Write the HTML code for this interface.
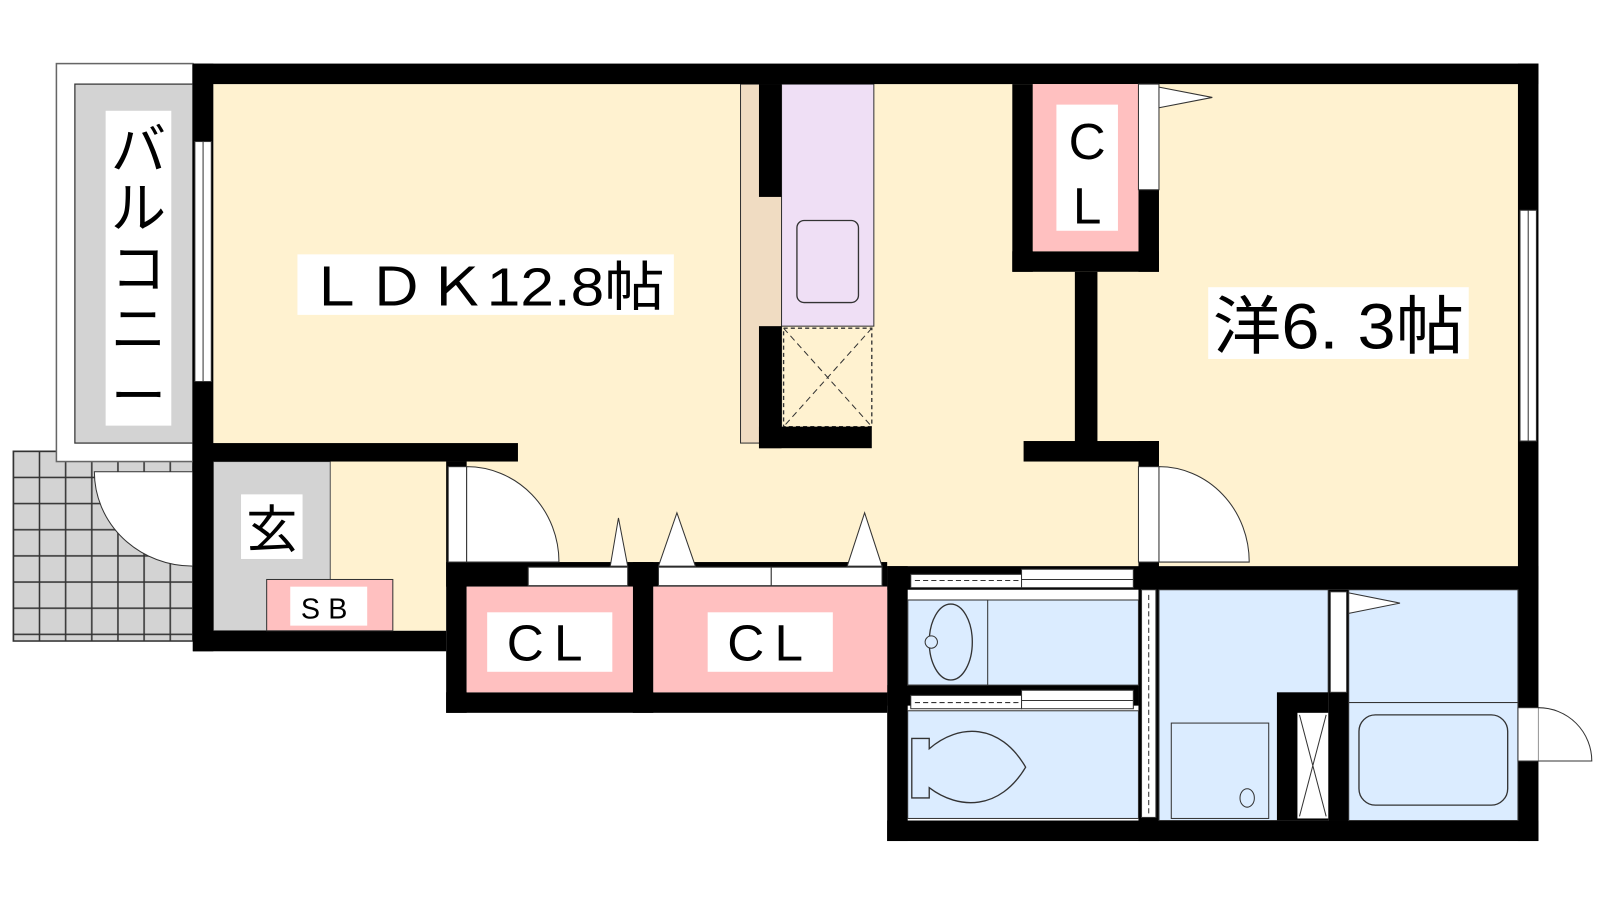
<!DOCTYPE html>
<html><head><meta charset="utf-8"><style>
html,body{margin:0;padding:0;background:#fff;width:1600px;height:900px;overflow:hidden}
svg{display:block}
text{font-family:"Liberation Sans","Noto Sans CJK JP",sans-serif;fill:#000}
</style></head><body>
<svg width="1600" height="900" viewBox="0 0 1560 877.5" preserveAspectRatio="none" xmlns="http://www.w3.org/2000/svg">
<defs>
<pattern id="tile" x="13" y="440" width="25.5" height="25.5" patternUnits="userSpaceOnUse">
<rect width="25.5" height="25.5" fill="#d3d3d3" stroke="#333" stroke-width="1.5"/>
</pattern>
</defs>
<!-- balcony -->
<rect x="13" y="440" width="175" height="185" fill="url(#tile)" stroke="#333" stroke-width="1.5"/>
<rect x="55" y="62" width="133" height="388" fill="#fff" stroke="#666" stroke-width="1.5"/>
<rect x="73" y="82" width="115" height="350" fill="#d3d3d3" stroke="#333" stroke-width="1.2"/>
<rect x="103" y="108" width="64" height="307" fill="#fff"/>
<text x="135" y="165" font-size="54" text-anchor="middle">バ</text>
<text x="135" y="222" font-size="54" text-anchor="middle">ル</text>
<text x="135" y="281" font-size="54" text-anchor="middle">コ</text>
<text x="135" y="340" font-size="54" text-anchor="middle">ニ</text>
<text x="135" y="405" font-size="54" text-anchor="middle">ー</text>
<!-- entry door swing -->
<path d="M188,460 L92,460 A96,92 0 0 0 188,552 Z" fill="#fff" stroke="#333" stroke-width="1"/>
<rect x="188" y="455" width="20" height="100" fill="#fff" stroke="#333"/>

<!-- floors -->
<rect x="208" y="82" width="1272" height="470" fill="#fff2d0"/>
<rect x="208" y="450" width="227" height="165" fill="#fff2d0"/>
<rect x="208" y="450" width="114" height="165" fill="#d3d3d3" stroke="#555" stroke-width="1"/>
<!-- kitchen -->
<rect x="722" y="82" width="40" height="350" fill="#f0dcc2" stroke="#333" stroke-width="1"/>
<rect x="762" y="82" width="90" height="236" fill="#efdff5" stroke="#333" stroke-width="1"/>
<rect x="777" y="215" width="60" height="80" rx="7" fill="none" stroke="#333" stroke-width="1.3"/>
<rect x="764" y="320" width="86" height="96" fill="none" stroke="#333" stroke-width="1.3" stroke-dasharray="4,3"/>
<path d="M764,320 L850,416 M850,320 L764,416" stroke="#333" stroke-width="1" stroke-dasharray="6,4"/>

<!-- walls -->
<g fill="#000">
<rect x="188" y="62" width="1312" height="20"/>
<rect x="188" y="62" width="20" height="573"/>
<rect x="1480" y="62" width="20" height="758"/>
<rect x="188" y="432" width="317" height="18"/>
<rect x="188" y="615" width="247" height="20"/>
<rect x="435" y="450" width="20" height="245"/>
<rect x="435" y="548" width="430" height="24"/>
<rect x="617" y="548" width="20" height="147"/>
<rect x="435" y="675" width="430" height="20"/>
<rect x="740" y="82" width="22" height="110"/>
<rect x="740" y="318" width="22" height="119"/>
<rect x="740" y="416" width="110" height="21"/>
<rect x="987" y="82" width="20" height="183"/>
<rect x="987" y="245" width="143" height="20"/>
<rect x="1110" y="185" width="20" height="80"/>
<rect x="1048" y="265" width="22" height="170"/>
<rect x="998" y="430" width="132" height="20"/>
<rect x="1110" y="430" width="20" height="25"/>
<rect x="865" y="552" width="635" height="23"/>
<rect x="865" y="552" width="20" height="268"/>
<rect x="865" y="800" width="635" height="20"/>
<rect x="865" y="668" width="245" height="20"/>
<rect x="1110" y="548" width="20" height="272"/>
<rect x="1245" y="675" width="70" height="125"/>
<rect x="1295" y="575" width="20" height="225"/>
</g>
<!-- windows -->
<rect x="190" y="138" width="16" height="234" fill="#fff" stroke="#333" stroke-width="1"/>
<line x1="198" y1="138" x2="198" y2="372" stroke="#333"/>
<rect x="1482" y="205" width="16" height="225" fill="#fff" stroke="#333" stroke-width="1"/>
<line x1="1490" y1="205" x2="1490" y2="430" stroke="#333"/>

<!-- genkan SB -->
<rect x="260" y="565" width="123" height="50" fill="#ffc0c0" stroke="#333" stroke-width="1"/>
<rect x="283" y="572" width="75" height="38" fill="#fff"/>
<text x="320" y="603" font-size="28" text-anchor="middle" letter-spacing="8">SB</text>
<rect x="235" y="482" width="60" height="63" fill="#fff"/>
<text x="265" y="534" font-size="50" text-anchor="middle">玄</text>

<!-- LDK door -->
<rect x="437" y="455" width="18" height="93" fill="#fff" stroke="#333"/>
<path d="M455,455 A90,93 0 0 1 545,548 L455,548 Z" fill="#fff" stroke="#333"/>
<!-- CL doors -->
<rect x="515" y="553" width="97" height="18" fill="#fff" stroke="#333"/>
<rect x="642" y="553" width="110" height="18" fill="#fff" stroke="#333"/>
<rect x="752" y="553" width="108" height="18" fill="#fff" stroke="#333"/>
<path d="M595,552 L603,505 L612,552 Z M642,552 L660,500 L678,552 Z M826,552 L843,500 L860,552 Z" fill="#fff" stroke="#333"/>
<rect x="455" y="572" width="162" height="103" fill="#ffc0c0"/>
<rect x="637" y="572" width="228" height="103" fill="#ffc0c0"/>
<rect x="475" y="597" width="122" height="58" fill="#fff"/>
<rect x="690" y="597" width="122" height="58" fill="#fff"/>
<text x="536" y="644" font-size="50" text-anchor="middle" letter-spacing="10">CL</text>
<text x="751" y="644" font-size="50" text-anchor="middle" letter-spacing="10">CL</text>

<!-- top-right CL -->
<rect x="1007" y="82" width="103" height="163" fill="#ffc0c0"/>
<rect x="1030" y="102" width="60" height="123" fill="#fff"/>
<text x="1060" y="155" font-size="50" text-anchor="middle">C</text>
<text x="1060" y="218" font-size="50" text-anchor="middle">L</text>
<rect x="1110" y="82" width="20" height="103" fill="#fff" stroke="#333"/>
<path d="M1130,85 L1182,95 L1130,105 Z" fill="#fff" stroke="#333"/>
<!-- western room door -->
<rect x="1110" y="455" width="20" height="93" fill="#fff" stroke="#333"/>
<path d="M1130,455 A88,93 0 0 1 1218,548 L1130,548 Z" fill="#fff" stroke="#333"/>

<!-- labels -->
<rect x="290" y="248" width="367" height="59" fill="#fff"/>
<text x="473" y="298" font-size="52" text-anchor="middle" textLength="350" lengthAdjust="spacingAndGlyphs">ＬＤＫ12.8帖</text>
<rect x="1178" y="280" width="254" height="70" fill="#fff"/>
<text x="1305" y="340" font-size="62" text-anchor="middle" textLength="245" lengthAdjust="spacingAndGlyphs">洋6. 3帖</text>

<!-- wet area -->
<g fill="#dbecff" stroke="#333" stroke-width="1">
<rect x="885" y="585" width="225" height="83"/>
<rect x="885" y="693" width="225" height="105"/>
<rect x="1130" y="575" width="165" height="225"/>
<rect x="1315" y="575" width="165" height="110"/>
<rect x="1315" y="685" width="165" height="115"/>
</g>
<rect x="1245" y="675" width="50" height="125" fill="#000"/>
<!-- sliding doors wash/toilet -->
<rect x="888" y="560" width="108" height="13" fill="#fff" stroke="#333"/>
<line x1="892" y1="566" x2="994" y2="566" stroke="#333" stroke-dasharray="5,3"/>
<rect x="996" y="555" width="109" height="18" fill="#fff" stroke="#333"/>
<line x1="996" y1="565" x2="1105" y2="565" stroke="#333"/>
<rect x="888" y="678" width="108" height="13" fill="#fff" stroke="#333"/>
<line x1="892" y1="685" x2="994" y2="685" stroke="#333" stroke-dasharray="5,3"/>
<rect x="996" y="673" width="109" height="18" fill="#fff" stroke="#333"/>
<line x1="996" y1="683" x2="1105" y2="683" stroke="#333"/>
<rect x="1113" y="575" width="14" height="222" fill="#fff" stroke="#333"/>
<line x1="1120" y1="580" x2="1120" y2="795" stroke="#333" stroke-dasharray="5,3"/>
<!-- sink -->
<rect x="885" y="585" width="78" height="83" fill="none" stroke="#333"/>
<ellipse cx="927" cy="626" rx="21" ry="37" fill="none" stroke="#333" stroke-width="1.3"/>
<circle cx="908" cy="626" r="6" fill="#dbecff" stroke="#333"/>
<!-- toilet -->
<path d="M889,720 L906,720 L906,730 C935,705 975,705 1000,748 C975,790 935,790 906,768 L906,778 L889,778 Z" fill="none" stroke="#333" stroke-width="1.3"/>
<!-- washer -->
<rect x="1142" y="705" width="95" height="93" fill="none" stroke="#333"/>
<ellipse cx="1216" cy="778" rx="7" ry="9" fill="none" stroke="#333"/>
<!-- X box -->
<rect x="1265" y="695" width="30" height="103" fill="#fff"/>
<path d="M1267,697 L1293,796 M1293,697 L1267,796" stroke="#333"/>
<!-- bath door flag -->
<rect x="1297" y="577" width="16" height="98" fill="#fff" stroke="#333"/>
<path d="M1315,578 L1365,588 L1315,598 Z" fill="#fff" stroke="#333"/>
<!-- tub -->
<rect x="1325" y="697" width="145" height="88" rx="16" fill="none" stroke="#333" stroke-width="1.3"/>
<!-- bath exterior door -->
<rect x="1480" y="690" width="20" height="52" fill="#fff" stroke="#333"/>
<path d="M1500,690 A52,52 0 0 1 1552,742 L1500,742" fill="#fff" stroke="#333"/>
</svg>
</body></html>
